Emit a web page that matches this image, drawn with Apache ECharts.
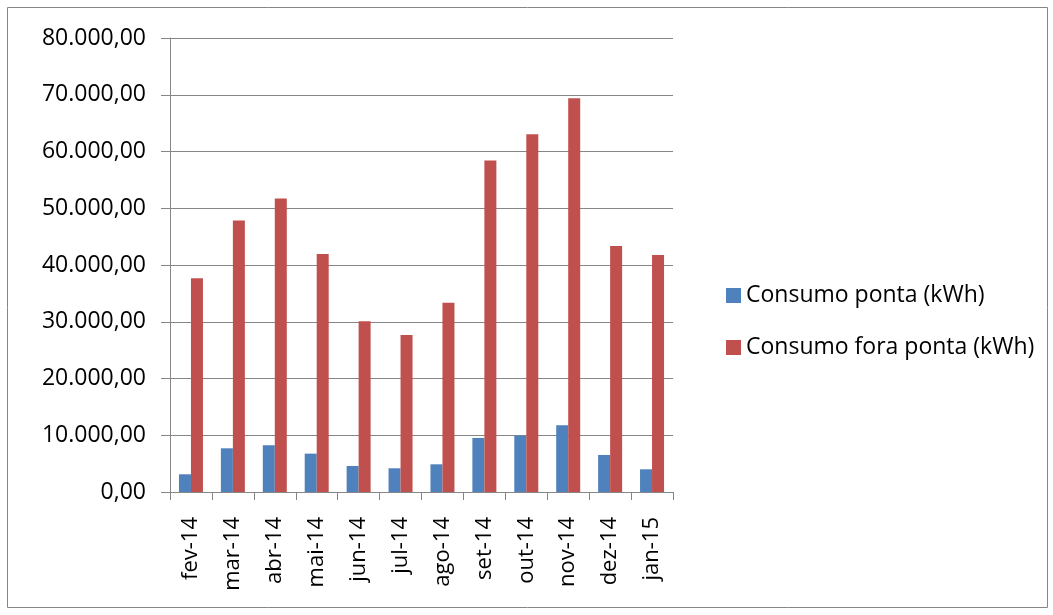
<!DOCTYPE html>
<html><head><meta charset="utf-8">
<script src="https://cdn.jsdelivr.net/npm/echarts@6/dist/echarts.min.js"></script>
<style>html,body{margin:0;padding:0;background:#fff}#c{width:1053px;height:615px}</style>
</head><body><div id="c"></div>
<script>
const categories = ['fev-14','mar-14','abr-14','mai-14','jun-14','jul-14','ago-14','set-14','out-14','nov-14','dez-14','jan-15'];
const consumoPonta = [3120, 7700, 8240, 6760, 4590, 4180, 4880, 9530, 9940, 11760, 6530, 4000];
const consumoForaPonta = [37650, 47820, 51700, 41940, 30100, 27650, 33350, 58400, 63050, 69400, 43350, 41760];
const seriesNames = ['Consumo ponta (kWh)', 'Consumo fora ponta (kWh)'];

const FONT = 'Open Sans';
function fmt(v){
  const s = Math.round(v).toString().replace(/\B(?=(\d{3})+(?!\d))/g, '.');
  return s + ',00';
}
const chart = echarts.init(document.getElementById('c'), null, {renderer:'canvas'});
chart.setOption({
  animation:false,
  backgroundColor:'#fff',
  graphic:[{type:'rect', shape:{x:7.5,y:7.5,width:1040,height:600}, style:{fill:null, stroke:'#868686', lineWidth:1}}],
  grid:{left:170, right:1053-673, top:38, bottom:615-492, containLabel:false},
  legend:{
    orient:'vertical', left:721, top:279, itemWidth:15, itemHeight:15, itemGap:29,
    icon:'rect', textStyle:{fontFamily:FONT, fontSize:23, color:'#000', padding:[0,0,0,0]},
    data:seriesNames
  },
  xAxis:{
    type:'category', data:categories,
    axisLine:{lineStyle:{color:'#868686', width:1}},
    axisTick:{show:true, length:8, alignWithLabel:false, lineStyle:{color:'#868686'}},
    axisLabel:{rotate:90, margin:25, fontFamily:FONT, fontSize:22, color:'#000', interval:0}
  },
  yAxis:{
    type:'value', min:0, max:80000, interval:10000,
    axisLine:{show:true, lineStyle:{color:'#868686', width:1}},
    axisTick:{show:true, length:9, lineStyle:{color:'#868686'}},
    splitLine:{lineStyle:{color:'#868686', width:1}},
    axisLabel:{formatter:fmt, margin:24, fontFamily:FONT, fontSize:23, color:'#000'}
  },
  series:[
    {name:seriesNames[0], type:'bar', data:consumoPonta, barWidth:12, barGap:'0%', itemStyle:{color:'#4F81BD'}},
    {name:seriesNames[1], type:'bar', data:consumoForaPonta, barWidth:12, barGap:'0%', itemStyle:{color:'#C0504D'}}
  ]
});
</script></body></html>
